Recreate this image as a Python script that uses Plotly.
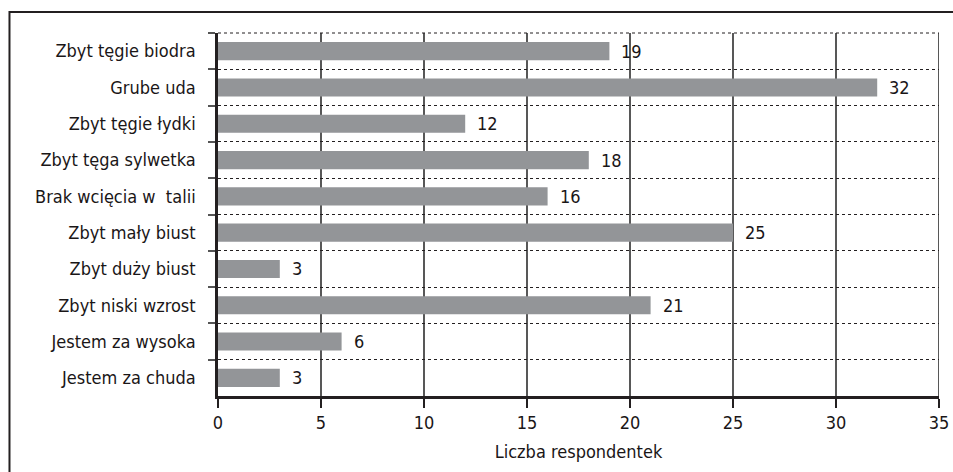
import plotly.graph_objects as go

# Survey: what respondents dislike about their figure
categories = [
    "Zbyt tęgie biodra",
    "Grube uda",
    "Zbyt tęgie łydki",
    "Zbyt tęga sylwetka",
    "Brak wcięcia w\u00a0 talii",
    "Zbyt mały biust",
    "Zbyt duży biust",
    "Zbyt niski wzrost",
    "Jestem za wysoka",
    "Jestem za chuda",
]
counts = [19, 32, 12, 18, 16, 25, 3, 21, 6, 3]
x_ticks = [0, 5, 10, 15, 20, 25, 30, 35]
x_title = "Liczba respondentek"

FONT = "DejaVu Sans Condensed, Liberation Sans Narrow, sans-serif"
FS = 18
TEXT = "#1a1617"
BAR = "#939598"
INK = "#231f20"

fig = go.Figure(
    go.Bar(
        y=categories,
        x=counts,
        orientation="h",
        width=0.5,
        marker=dict(color=BAR, line=dict(width=0)),
        hoverinfo="x+y",
    )
)

# value labels to the right of each bar
for cat, v in zip(categories, counts):
    fig.add_annotation(
        x=v, y=cat, text=str(v), showarrow=False,
        xanchor="left", yanchor="middle", xshift=10,
        font=dict(family=FONT, size=FS, color=TEXT),
    )

# vertical grid lines at the x ticks
for t in x_ticks[1:]:
    fig.add_shape(
        type="line", xref="x", yref="paper", x0=t, x1=t, y0=0, y1=1,
        line=dict(color="#111111", width=1.4), layer="below",
    )

# dotted line closing the top of the plot area
fig.add_shape(
    type="line", xref="paper", yref="paper", x0=0, x1=1, y0=1, y1=1,
    line=dict(color=INK, width=1, dash="dot"), layer="below",
)

# outer frame
fig.add_shape(
    type="rect", xref="paper", yref="paper",
    x0=-0.2892, x1=1.2, y0=-0.4, y1=1.058,
    line=dict(color=INK, width=2), fillcolor="rgba(0,0,0,0)",
)

fig.update_layout(
    width=953, height=472,
    margin=dict(l=218, r=14, t=33, b=76, autoexpand=False),
    paper_bgcolor="white", plot_bgcolor="white",
    font=dict(family=FONT, size=FS, color=TEXT),
    showlegend=False,
)

fig.update_xaxes(
    range=[0, 35], tickvals=x_ticks, ticktext=[str(t) for t in x_ticks],
    ticks="outside", ticklen=9, tickwidth=1.5, tickcolor=INK,
    showline=True, linewidth=2.5, linecolor=INK,
    showgrid=False, zeroline=False, automargin=False,
    tickfont=dict(size=FS),
    title=dict(text=x_title, font=dict(size=FS), standoff=14),
)

fig.update_yaxes(
    type="category", categoryorder="array", categoryarray=categories,
    autorange="reversed",
    tickson="boundaries", ticks="outside", ticklen=7, tickwidth=1.5,
    tickcolor="#555555",
    showline=True, linewidth=2.5, linecolor=INK,
    showgrid=True, gridcolor=INK, gridwidth=1, griddash="dot",
    zeroline=False, automargin=False,
    tickfont=dict(size=FS),
    ticklabelstandoff=16,
)

fig.write_html("out.html")
